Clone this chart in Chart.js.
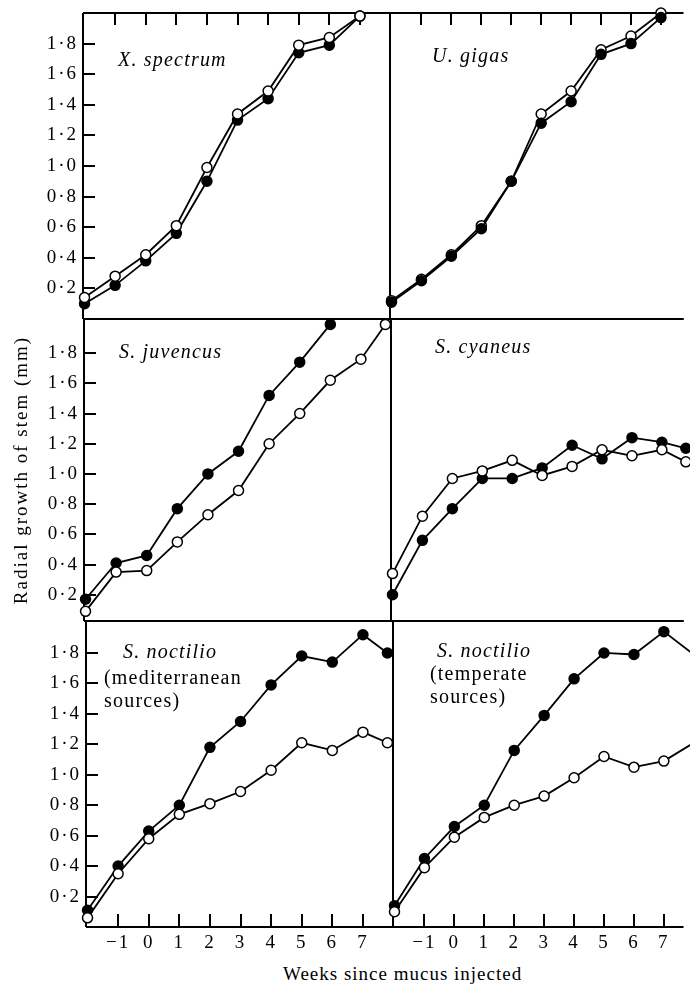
<!DOCTYPE html>
<html>
<head>
<meta charset="utf-8">
<script src="https://cdn.jsdelivr.net/npm/chart.js"></script>
<style>
  html, body { margin: 0; background: #fff; overflow: hidden; }
  #figure { position: relative; width: 690px; height: 985px; overflow: hidden; background: #fff; }
  #figure canvas { position: absolute; }
  #xTitle { position: absolute; left: 283px; top: 964px; font: 19px 'Liberation Serif', 'Times New Roman', serif; letter-spacing: 1px; white-space: nowrap; color: #000; line-height: 1; }
</style>
</head>
<body>
<div id="figure">
  <div id="xTitle">Weeks since mucus injected</div>
</div>
<script>
// weeks since mucus injected (x values of the points)
const weeks = [-2, -1, 0, 1, 2, 3, 4, 5, 6, 7];
const weeksLong = [-2, -1, 0, 1, 2, 3, 4, 5, 6, 7, 7.8];
const weeksTemperate = [-2, -1, 0, 1, 2, 3, 4, 5, 6, 7, 8];
const weekTicks = [-1, 0, 1, 2, 3, 4, 5, 6, 7];
const growthTicks = [0.2, 0.4, 0.6, 0.8, 1.0, 1.2, 1.4, 1.6, 1.8];

// radial growth of stem (mm): filled and open circles
const spectrumFilled = [0.10, 0.22, 0.38, 0.56, 0.90, 1.30, 1.44, 1.74, 1.79, 1.98];
const spectrumOpen   = [0.14, 0.28, 0.42, 0.61, 0.99, 1.34, 1.49, 1.79, 1.84, 1.98];
const gigasFilled    = [0.11, 0.25, 0.41, 0.59, 0.90, 1.28, 1.42, 1.73, 1.80, 1.97];
const gigasOpen      = [0.12, 0.26, 0.42, 0.61, 0.90, 1.34, 1.49, 1.76, 1.85, 2.00];
const juvencusFilled = [0.17, 0.41, 0.46, 0.77, 1.00, 1.15, 1.52, 1.74, 1.99];
const juvencusOpen   = [0.09, 0.35, 0.36, 0.55, 0.73, 0.89, 1.20, 1.40, 1.62, 1.76, 1.99];
const cyaneusFilled  = [0.20, 0.56, 0.77, 0.97, 0.97, 1.04, 1.19, 1.10, 1.24, 1.21, 1.17];
const cyaneusOpen    = [0.34, 0.72, 0.97, 1.02, 1.09, 0.99, 1.05, 1.16, 1.12, 1.16, 1.08];
const medFilled      = [0.11, 0.40, 0.63, 0.80, 1.18, 1.35, 1.59, 1.78, 1.74, 1.92, 1.80];
const medOpen        = [0.06, 0.35, 0.58, 0.74, 0.81, 0.89, 1.03, 1.21, 1.16, 1.28, 1.21];
const tempFilled     = [0.14, 0.45, 0.66, 0.80, 1.16, 1.39, 1.63, 1.80, 1.79, 1.94, 1.79];
const tempOpen       = [0.10, 0.39, 0.59, 0.72, 0.80, 0.86, 0.98, 1.12, 1.05, 1.09, 1.21];

Chart.defaults.font.family = "'Liberation Serif', 'Times New Roman', serif";
Chart.defaults.font.size = 19;
Chart.defaults.color = '#000';

// page geometry of the three rows (chart areas)
const rows = [
  { top: 13,  bottom: 319, left: 83, mid: 390, yMin: 0,     yMax: 2.0,   cTop: 0,   cBottom: 335 },
  { top: 319, bottom: 621, left: 84, mid: 391, yMin: 0.026, yMax: 2.026, cTop: 305, cBottom: 635 },
  { top: 621, bottom: 927, left: 86, mid: 393, yMin: 0,     yMax: 2.01,  cTop: 605, cBottom: 960 }
];
const xMin = -2.05;
const pxPerWeek = 30.6;

function series(xs, ys, filled) {
  return {
    data: ys.map((v, i) => ({ x: xs[i], y: v })),
    borderColor: '#000',
    borderWidth: 1.8,
    pointRadius: 5,
    pointBorderWidth: 1.5,
    pointBorderColor: '#000',
    pointBackgroundColor: filled ? '#000' : '#fff',
    tension: 0,
    clip: false
  };
}

const panels = [
  { row: 0, side: 'left', labels: [['X. spectrum', true, 35, 48]],
    datasets: [series(weeks, spectrumOpen, false), series(weeks, spectrumFilled, true)] },
  { row: 0, side: 'right', labels: [['U. gigas', true, 42, 44]],
    datasets: [series(weeks, gigasFilled, true), series(weeks, gigasOpen, false)] },
  { row: 1, side: 'left', labels: [['S. juvencus', true, 35, 34]],
    datasets: [series(weeksLong, juvencusOpen, false), series(weeks, juvencusFilled, true)] },
  { row: 1, side: 'right', labels: [['S. cyaneus', true, 44, 29]],
    datasets: [series(weeksLong, cyaneusOpen, false), series(weeksLong, cyaneusFilled, true)] },
  { row: 2, side: 'left', labels: [['S. noctilio', true, 37, 32], ['(mediterranean', false, 18, 58], ['sources)', false, 18, 81]],
    datasets: [series(weeksLong, medOpen, false), series(weeksLong, medFilled, true)] },
  { row: 2, side: 'right', labels: [['S. noctilio', true, 44, 31], ['(temperate', false, 37, 54], ['sources)', false, 37, 77]],
    datasets: [series(weeksTemperate, tempOpen, false), series(weeksTemperate, tempFilled, true)] }
];

// frame lines, inward tick marks and the species names
const framePlugin = {
  id: 'frame',
  beforeDraw(chart) {
    chart.ctx.letterSpacing = '2px';
  },
  beforeDatasetsDraw(chart, args, opts) {
    const { ctx, chartArea: a, scales: { x, y } } = chart;
    ctx.save();
    ctx.strokeStyle = '#000';
    ctx.lineWidth = 2;
    ctx.beginPath();
    ctx.moveTo(a.left, a.top); ctx.lineTo(a.right, a.top);
    ctx.moveTo(a.left, a.bottom); ctx.lineTo(a.right, a.bottom);
    ctx.moveTo(a.left, a.top); ctx.lineTo(a.left, a.bottom);
    if (opts.rightEdge) { ctx.moveTo(a.right, a.top); ctx.lineTo(a.right, a.bottom); }
    ctx.stroke();

    ctx.lineWidth = 2;
    ctx.beginPath();
    weekTicks.forEach(w => {
      const px = Math.round(x.getPixelForValue(w));
      if (px <= a.left || px >= a.right) return;
      if (opts.topTicks) { ctx.moveTo(px, a.top); ctx.lineTo(px, a.top + 12); }
      if (opts.bottomTicks) { ctx.moveTo(px, a.bottom); ctx.lineTo(px, a.bottom - 13); }
    });
    if (opts.leftTicks) {
      growthTicks.forEach(g => {
        const py = Math.round(y.getPixelForValue(g));
        ctx.moveTo(a.left, py); ctx.lineTo(a.left + 12, py);
      });
    }
    ctx.stroke();

    ctx.fillStyle = '#000';
    ctx.textBaseline = 'middle';
    ctx.textAlign = 'left';
    ctx.letterSpacing = '1.2px';
    opts.labels.forEach(([text, italic, dx, dy]) => {
      ctx.font = (italic ? 'italic ' : '') + "20px 'Liberation Serif', 'Times New Roman', serif";
      ctx.fillText(text, a.left + dx, a.top + dy);
    });
    ctx.restore();
  }
};

// keep the chart areas where the rows say, whatever the tick labels need
function noPadding(s) {
  s.paddingTop = 0;
  s.paddingBottom = 0;
  s.paddingLeft = 0;
  s.paddingRight = 0;
}

const figure = document.getElementById('figure');

panels.forEach(p => {
  const r = rows[p.row];
  const isLeft = p.side === 'left';
  const isBottom = p.row === 2;
  const cLeft = isLeft ? 0 : 370;
  const cWidth = isLeft ? 400 : 320;
  const cHeight = r.cBottom - r.cTop;

  const canvas = document.createElement('canvas');
  canvas.width = cWidth;
  canvas.height = cHeight;
  canvas.style.left = cLeft + 'px';
  canvas.style.top = r.cTop + 'px';
  canvas.style.width = cWidth + 'px';
  canvas.style.height = cHeight + 'px';
  figure.appendChild(canvas);

  const areaLeft = isLeft ? r.left : r.mid;
  const areaRight = isLeft ? r.mid : 690;

  new Chart(canvas, {
    type: 'line',
    data: { datasets: p.datasets },
    options: {
      responsive: false,
      animation: false,
      events: [],
      layout: {
        padding: {
          left: isLeft ? 0 : r.mid - cLeft,
          right: cLeft + cWidth - areaRight,
          top: r.top - r.cTop,
          bottom: isBottom ? 0 : r.cBottom - r.bottom
        }
      },
      plugins: {
        legend: { display: false },
        tooltip: { enabled: false },
        frame: {
          rightEdge: isLeft,
          topTicks: p.row === 0,
          bottomTicks: isBottom,
          leftTicks: isLeft,
          labels: p.labels
        }
      },
      scales: {
        x: {
          type: 'linear',
          min: xMin,
          max: xMin + (areaRight - areaLeft) / pxPerWeek,
          display: isBottom,
          afterBuildTicks: s => { s.ticks = weekTicks.map(v => ({ value: v })); },
          afterFit: s => { noPadding(s); if (isBottom) s.height = r.cBottom - r.bottom; },
          grid: { display: false, drawTicks: false },
          border: { display: false },
          ticks: {
            autoSkip: false,
            maxRotation: 0,
            padding: 5,
            callback: v => v < 0 ? '\u2212' + Math.abs(v) : String(v)
          }
        },
        y: {
          type: 'linear',
          min: r.yMin,
          max: r.yMax,
          display: isLeft,
          afterBuildTicks: s => { s.ticks = growthTicks.map(v => ({ value: v })); },
          afterFit: s => { noPadding(s); if (isLeft) s.width = r.left; },
          grid: { display: false, drawTicks: false },
          border: { display: false },
          ticks: {
            padding: 5,
            callback: v => v.toFixed(1).replace('.', '\u00b7')
          },
          title: {
            display: isLeft && p.row === 1,
            text: 'Radial growth of stem (mm)',
            padding: { top: 11, bottom: 0 }
          }
        }
      }
    },
    plugins: [framePlugin]
  });
});
</script>
</body>
</html>
